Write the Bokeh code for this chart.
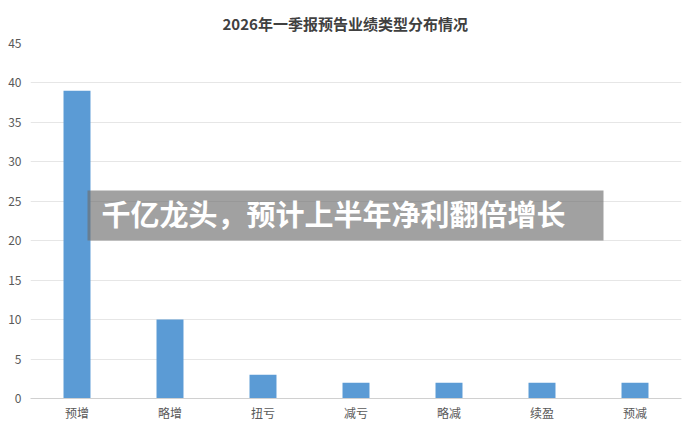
from bokeh.plotting import figure
from bokeh.models import ColumnDataSource, BoxAnnotation, Label, Title, FixedTicker
from bokeh.embed import file_html
from bokeh.resources import INLINE

categories = ["预增", "略增", "扭亏", "减亏", "略减", "续盈", "预减"]
counts = [39, 10, 3, 2, 2, 2, 2]
y_ticks = [0, 5, 10, 15, 20, 25, 30, 35, 40, 45]
title_text = "2026年一季报预告业绩类型分布情况"
banner_text = "千亿龙头，预计上半年净利翻倍增长"

FONT = "Noto Sans CJK SC"

src = ColumnDataSource(dict(cat=categories, val=counts))

p = figure(x_range=categories, y_range=(0, 45), width=690, height=429,
           output_backend="svg", toolbar_location=None,
           min_border_left=30, min_border_right=9, min_border_top=43, min_border_bottom=31)
p.title = Title(text=title_text, align="left", offset=192,
                text_font=FONT, text_font_size="15px",
                text_font_style="bold", text_color="#404040", standoff=19)

p.vbar(x="cat", top="val", width=0.29, source=src, color="#5B9BD5", line_color=None)

p.outline_line_color = None
p.background_fill_color = "white"
p.border_fill_color = "white"
p.xgrid.grid_line_color = None
p.ygrid.grid_line_color = "#E6E6E6"
p.ygrid.grid_line_width = 1

p.yaxis.ticker = FixedTicker(ticks=y_ticks)
p.yaxis.axis_line_color = None
p.yaxis.major_tick_line_color = None
p.yaxis.major_tick_out = 0
p.yaxis.major_tick_in = 0
p.yaxis.minor_tick_line_color = None
p.yaxis.major_label_text_font = FONT
p.yaxis.major_label_text_font_size = "12px"
p.yaxis.major_label_text_color = "#595959"
p.yaxis.major_label_standoff = 9

p.xaxis.axis_line_color = "#D0D0D0"
p.xaxis.major_tick_line_color = None
p.xaxis.major_tick_out = 0
p.xaxis.major_tick_in = 0
p.xaxis.minor_tick_line_color = None
p.xaxis.major_label_text_font = FONT
p.xaxis.major_label_text_font_size = "12px"
p.xaxis.major_label_text_color = "#595959"
p.xaxis.major_label_standoff = 5

# overlay banner (screen units relative to the plot frame, measured from its bottom)
box = BoxAnnotation(left=57, right=573, top=208, bottom=158,
                    left_units="screen", right_units="screen",
                    top_units="screen", bottom_units="screen",
                    fill_color="#6E6E6E", fill_alpha=0.65, line_color=None)
p.add_layout(box)
lab = Label(x=71, y=186, x_units="screen", y_units="screen", text=banner_text,
            text_font=FONT, text_font_size="29px", text_font_style="bold",
            text_color="white", text_baseline="middle")
p.add_layout(lab)

open("out.html", "w").write(file_html(p, INLINE))
